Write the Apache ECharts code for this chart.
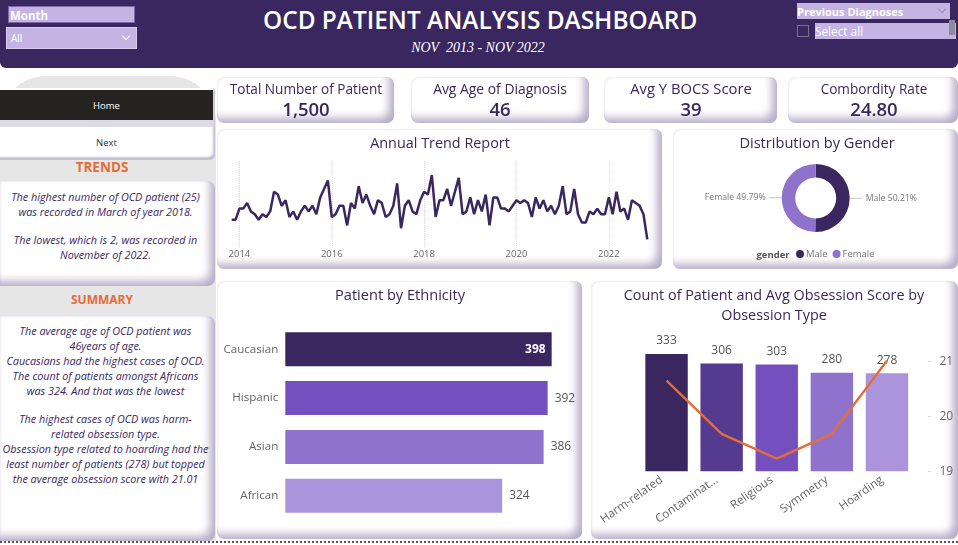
<!DOCTYPE html>
<html>
<head>
<meta charset="utf-8">
<title>OCD Patient Analysis Dashboard</title>
<script src="https://cdn.jsdelivr.net/npm/echarts@6/dist/echarts.min.js"></script>
<style>
html, body { margin: 0; padding: 0; background: #fff; }
body { width: 958px; height: 545px; position: relative; overflow: hidden; font-family: "Open Sans", sans-serif; }
div { box-sizing: border-box; }
.abs { position: absolute; }
.card { position: absolute; background: #fff; border-radius: 7px; box-shadow: inset -7px -7px 9px -2px #b5aec8, inset 1px 1px 2px #eeeaf4; }
#chart-container { position: absolute; left: 0; top: 0; width: 958px; height: 545px; }
#header { left: 0; top: 0; width: 958px; height: 68px; background: #3a2760; border-radius: 0 0 6px 6px; }
.slicer { background: #c5b4e3; color: #fff; white-space: nowrap; }
.note { position: absolute; left: 0; width: 211px; text-align: center; font-style: italic; font-size: 10.8px; line-height: 15px; color: #3a2760; white-space: nowrap; }
.note .gap { height: 13px; }
.head { position: absolute; text-align: center; color: #e66c37; font-weight: 700; left: 0; width: 204px; }
.chev { position: absolute; width: 6px; height: 6px; border-right: 1px solid #fff; border-bottom: 1px solid #fff; transform: rotate(45deg); }
</style>
</head>
<body>
<div class="abs" id="header"></div>
<div class="abs" style="left:263px;top:3px;width:432px;text-align:center;color:#fff;font-size:24.4px;font-weight:600;white-space:nowrap;line-height:34px">OCD PATIENT ANALYSIS DASHBOARD</div>
<div class="abs" style="left:378px;top:39px;width:200px;text-align:center;color:#fff;font:italic 14px 'Liberation Serif',serif;line-height:17px;white-space:pre">NOV  2013 - NOV 2022</div>

<div class="abs slicer" style="left:8px;top:6px;width:127px;height:17px;border:1px solid #7d68a8;font-size:11.5px;font-weight:700;line-height:17px;padding-left:1px">Month</div>
<div class="abs slicer" style="left:6px;top:27px;width:131px;height:22px;border:1px solid #d9cdef;font-size:10px;line-height:21px;padding-left:4px">All<div class="chev" style="left:116px;top:5px"></div></div>

<div class="abs slicer" style="left:797px;top:3px;width:153px;height:16px;font-size:11px;font-weight:700;line-height:18px">Previous Diagnoses<div class="chev" style="left:142px;top:3px;border-color:#9b8fb5"></div></div>
<div class="abs" style="left:797px;top:25px;width:12px;height:12px;border:1px solid #77708a"></div>
<div class="abs slicer" style="left:815px;top:23px;width:141px;height:16px;font-size:11.8px;line-height:17px">Select all</div>
<div class="abs" style="left:949px;top:20px;width:6px;height:15px;background:#8f8a9c"></div>

<div class="abs" style="left:0;top:76px;width:216px;height:465px;background:#e6e6e6;border-radius:46px 46px 0 0"></div>
<div class="abs" style="left:0;top:88px;width:215px;height:72px;background:#fff;box-shadow:inset -2px -3px 2px #c5c0d2;border-radius:0 3px 5px 0"></div>
<div class="abs" style="left:0;top:90px;width:213px;height:30px;background:#252423;color:#fff;font-size:9.5px;line-height:31px;text-align:center">Home</div>
<div class="abs" style="left:0;top:120px;width:213px;height:7px;background:#dcdae2"></div>
<div class="abs" style="left:0;top:127px;width:213px;height:30px;color:#333;font-size:9.5px;line-height:31px;text-align:center">Next</div>
<div class="head" style="top:158px;font-size:13.5px;line-height:19px">TRENDS</div>
<div class="card" style="left:0;top:181px;width:215px;height:105px;border-radius:0 7px 7px 0"></div>
<div class="head" style="top:291px;font-size:12px;line-height:17px">SUMMARY</div>
<div class="card" style="left:0;top:316px;width:215px;height:225px;border-radius:0 7px 7px 0"></div>
<div id="trendNote" class="note" style="top:188.5px"></div>
<div id="summaryNote" class="note" style="top:323px"></div>

<div class="card" style="left:217px;top:77px;width:177px;height:46px"></div>
<div class="card" style="left:411px;top:77px;width:178px;height:46px"></div>
<div class="card" style="left:604px;top:77px;width:173px;height:46px"></div>
<div class="card" style="left:788px;top:77px;width:170px;height:46px"></div>
<div class="card" style="left:217px;top:129px;width:445px;height:140px"></div>
<div class="card" style="left:673px;top:129px;width:285px;height:140px"></div>
<div class="card" style="left:217px;top:281px;width:365px;height:258px"></div>
<div class="card" style="left:591px;top:281px;width:367px;height:258px"></div>

<div class="abs" style="left:0;top:541px;width:958px;border-top:2px dotted #555"></div>
<div id="chart-container"></div>

<script>
// text boxes on the left
var trendLines = [
    'The highest number of OCD patient (25)',
    'was recorded in March of year 2018.',
    '',
    'The lowest, which is 2, was recorded in',
    'November of 2022.'
];
var summaryLines = [
    'The average age of OCD patient was',
    '46years of age.',
    'Caucasians had the highest cases of OCD.',
    'The count of patients amongst Africans',
    'was 324. And that was the lowest',
    '',
    'The highest cases of OCD was harm-',
    'related obsession type.',
    'Obsession type related to hoarding had the',
    'least number of patients (278) but topped',
    'the average obsession score with 21.01'
];

// KPI cards
var kpiNames = ['Total Number of Patient', 'Avg Age of Diagnosis', 'Avg Y BOCS Score', 'Combordity Rate'];
var kpiValues = ['1,500', '46', '39', '24.80'];

// patients per month, Nov 2013 to Nov 2022
var monthlyPatients = [
    9, 9, 13, 13, 15, 12, 11, 9, 11, 10, 12, 19, 18,
    14, 16, 10, 12, 9, 12, 14, 12, 14, 11, 17, 20, 23,
    10, 11, 14, 14, 7, 15, 13, 21, 15, 18, 14, 11, 16, 15,
    10, 11, 14, 22, 6, 14, 16, 12, 11, 16, 19, 18, 25, 10,
    16, 16, 20, 14, 19, 24, 11, 12, 17, 11, 16, 12, 18, 7,
    17, 17, 13, 13, 12, 14, 16, 15, 16, 15, 10, 17, 13, 16,
    12, 14, 11, 14, 21, 11, 12, 20, 11, 8, 8, 12, 11, 13,
    11, 11, 17, 11, 19, 12, 13, 9, 16, 15, 14, 11, 2
];
var months = [];
for (var y = 2013, m = 11; months.length < monthlyPatients.length; m++) {
    if (m > 12) { m = 1; y++; }
    months.push(y + '-' + (m < 10 ? '0' : '') + m);
}

var genderNames = ['Male', 'Female'];
var genderShares = [50.21, 49.79];

var ethnicities = ['Caucasian', 'Hispanic', 'Asian', 'African'];
var ethnicityCounts = [398, 392, 386, 324];

var obsessionTypes = ['Harm-related', 'Contamination', 'Religious', 'Symmetry', 'Hoarding'];
var obsessionCounts = [333, 306, 303, 280, 278];
var obsessionScores = [20.65, 19.68, 19.23, 19.68, 21.01];

var purple = '#3a2760';
var ethnicityColors = ['#3a2760', '#7450be', '#8f72cc', '#ab94db'];
var obsessionColors = ['#3a2760', '#553b8f', '#7450be', '#8f72cc', '#ab94db'];
var font = '"Open Sans", sans-serif';

function noteHtml(lines) {
    return lines.map(function (l) {
        return l ? '<div>' + l + '</div>' : '<div class="gap"></div>';
    }).join('');
}
document.getElementById('trendNote').innerHTML = noteHtml(trendLines);
document.getElementById('summaryNote').innerHTML = noteHtml(summaryLines);

var dom = document.getElementById('chart-container');
var myChart = echarts.init(dom, null, { renderer: 'canvas' });

function heading(text, x, y, size, color, weight) {
    return {
        text: text,
        left: x,
        top: y,
        textAlign: 'center',
        textVerticalAlign: 'middle',
        padding: 0,
        textStyle: { fontFamily: font, fontSize: size, color: color || purple, fontWeight: weight || 500 }
    };
}

var kpiX = [306, 500, 691, 874];
var kpiSizes = [13.6, 13.9, 14.8, 13.6];
var titles = [
    heading('Annual Trend Report', 440, 144, 14.4),
    heading('Distribution by Gender', 817, 144, 14.6),
    heading('Patient by Ethnicity', 400, 296, 14.6),
    heading('Count of Patient and Avg Obsession Score by', 774, 296, 14.4),
    heading('Obsession Type', 774, 316, 14.4),
    heading('gender', 773, 255, 9.5, '#555', 'bold')
];
kpiNames.forEach(function (name, i) {
    titles.push(heading(name, kpiX[i], 90, kpiSizes[i]));
    titles.push(heading(kpiValues[i], kpiX[i], 111, 18.5, purple, 600));
});

var option = {
    animation: false,
    backgroundColor: 'transparent',
    textStyle: { fontFamily: font },
    title: titles,
    legend: {
        data: genderNames,
        left: 796,
        top: 249,
        padding: 0,
        icon: 'circle',
        itemWidth: 8,
        itemHeight: 8,
        itemGap: 5,
        textStyle: { fontSize: 9.5, color: '#777', padding: [0, 0, 0, -3] }
    },
    grid: [
        { left: 231.7, top: 161, width: 415.6, height: 86.8, outerBoundsMode: 'none' },
        { left: 285.3, top: 324.9, width: 267.7, height: 195.2, outerBoundsMode: 'none' },
        { left: 639, top: 350.3, width: 275.5, height: 121, outerBoundsMode: 'none' }
    ],
    xAxis: [
        {
            type: 'category',
            gridIndex: 0,
            data: months,
            boundaryGap: false,
            axisLine: { show: false },
            axisTick: { show: false },
            splitLine: {
                show: true,
                interval: function (i, v) { return /^\d*[02468]-01$/.test(v); },
                lineStyle: { type: 'dotted', color: '#dedede' }
            },
            axisLabel: {
                interval: function (i, v) { return /^\d*[02468]-01$/.test(v); },
                formatter: function (v) { return v.slice(0, 4); },
                color: '#666',
                fontSize: 9.5,
                margin: 1
            }
        },
        { type: 'value', gridIndex: 1, min: 0, max: 400, show: false },
        {
            type: 'category',
            gridIndex: 2,
            data: obsessionTypes,
            axisLine: { show: false },
            axisTick: { show: false },
            axisLabel: {
                interval: 0,
                rotate: 35,
                color: '#666',
                fontSize: 11.7,
                margin: 4,
                padding: [0, 6, 0, 0],
                width: 76,
                overflow: 'truncate',
                ellipsis: '...'
            }
        }
    ],
    yAxis: [
        { type: 'value', gridIndex: 0, min: -1, max: 30, show: false },
        {
            type: 'category',
            gridIndex: 1,
            data: ethnicities,
            inverse: true,
            axisLine: { show: false },
            axisTick: { show: false },
            axisLabel: { color: '#666', fontSize: 11.6, margin: 7, padding: [2, 0, 0, 0] }
        },
        { type: 'value', gridIndex: 2, min: 0, max: 343.5, show: false },
        {
            type: 'value',
            gridIndex: 2,
            position: 'right',
            min: 19,
            max: 21.2,
            interval: 1,
            splitLine: { show: false },
            axisLine: { show: false },
            axisTick: { show: true, length: 17, lineStyle: { color: '#d8d8d8', type: [0, 13.5, 3, 3] } },
            axisLabel: { color: '#666', fontSize: 12, margin: 25, padding: [2, 0, 0, 0] }
        }
    ],
    series: [
        {
            type: 'line',
            xAxisIndex: 0,
            yAxisIndex: 0,
            data: monthlyPatients,
            symbol: 'none',
            lineStyle: { color: purple, width: 2.5 }
        },
        {
            type: 'pie',
            center: [815.7, 198],
            radius: [20.5, 34],
            data: genderNames.map(function (n, i) {
                return { name: n, value: genderShares[i], itemStyle: { color: [purple, '#8f72cc'][i] } };
            }),
            label: { formatter: '{b} {d}%', color: '#777', fontSize: 8.7, distanceToLabelLine: 3 },
            labelLine: { length: 12, length2: 1, lineStyle: { color: '#c4c4c4' } }
        },
        {
            type: 'bar',
            xAxisIndex: 1,
            yAxisIndex: 1,
            barWidth: 34,
            data: ethnicityCounts.map(function (v, i) {
                var item = { value: v, itemStyle: { color: ethnicityColors[i] } };
                if (i === 0) {
                    item.label = { position: 'insideRight', color: '#fff', fontWeight: 'bold', distance: 6 };
                }
                return item;
            }),
            label: { show: true, position: 'right', color: '#555', fontSize: 12, distance: 7 }
        },
        {
            type: 'bar',
            xAxisIndex: 2,
            yAxisIndex: 2,
            barWidth: 42.4,
            data: obsessionCounts.map(function (v, i) {
                return { value: v, itemStyle: { color: obsessionColors[i] } };
            }),
            label: { show: true, position: 'top', color: '#555', fontSize: 12, distance: 7 }
        },
        {
            type: 'line',
            xAxisIndex: 2,
            yAxisIndex: 3,
            data: obsessionScores,
            symbol: 'none',
            lineStyle: { color: '#e66c37', width: 2.4 }
        }
    ]
};

if (option && typeof option === 'object') {
    myChart.setOption(option);
}

window.addEventListener('resize', myChart.resize);
</script>
</body>
</html>
